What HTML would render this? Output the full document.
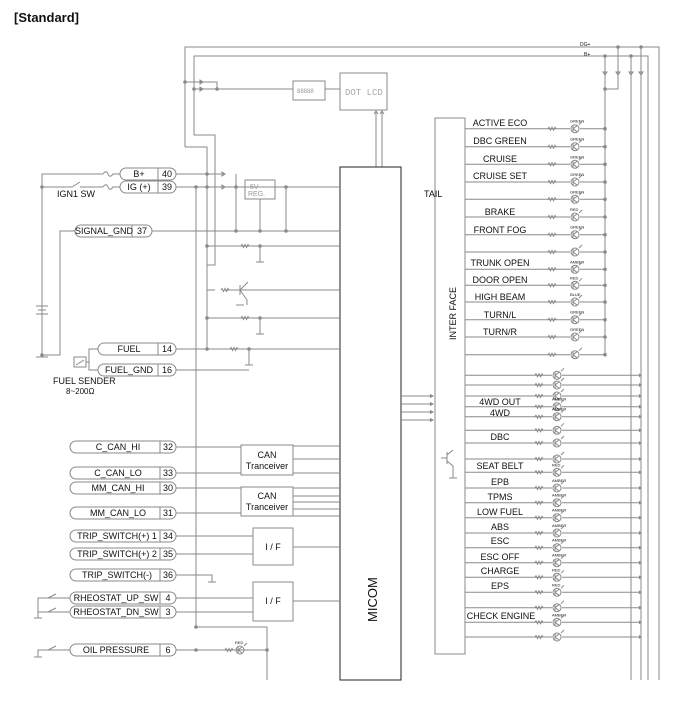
<!DOCTYPE html>
<html><head><meta charset="utf-8"><style>
html,body{margin:0;padding:0;background:#fff;width:700px;height:715px;overflow:hidden}
svg{display:block}
text{font-family:"Liberation Sans",sans-serif;fill:#111}
</style></head><body>
<svg id="s" width="700" height="715" viewBox="0 0 700 715" xmlns="http://www.w3.org/2000/svg">
<g id="g" stroke="#8a8a8a" stroke-width="1" fill="none"></g>
<text x="14" y="22" font-size="13" font-weight="bold">[Standard]</text>
<text x="580" y="46" font-size="5" fill="#777">DG+</text>
<text x="584" y="56" font-size="5" fill="#777">B+</text>
<text x="345" y="95" font-size="9" style="fill:#aaa;font-family:'Liberation Mono',monospace">DOT LCD</text>
<text x="297" y="93" font-size="6" style="fill:#999">88888</text>
<text x="250" y="189" font-size="7" style="fill:#999">5V</text>
<text x="248" y="196" font-size="7" style="fill:#999">REG.</text>
<text x="424" y="197" font-size="9">TAIL</text>
<text transform="translate(456,340) rotate(-90)" font-size="9">INTER FACE</text>
<text transform="translate(377,622) rotate(-90)" font-size="13">MICOM</text>
<text x="57" y="197" font-size="9">IGN1 SW</text>
<text x="53" y="384" font-size="9">FUEL SENDER</text>
<text x="66" y="394" font-size="8">8~200Ω</text>
<g font-size="9" text-anchor="middle">
<text x="139" y="177">B+</text><text x="167" y="177">40</text>
<text x="139" y="190">IG (+)</text><text x="167" y="190">39</text>
<text x="104" y="234">SIGNAL_GND</text><text x="142" y="234">37</text>
<text x="129" y="352">FUEL</text><text x="167" y="352">14</text>
<text x="129" y="373">FUEL_GND</text><text x="167" y="373">16</text>
<text x="118" y="450">C_CAN_HI</text><text x="168" y="450">32</text>
<text x="118" y="476">C_CAN_LO</text><text x="168" y="476">33</text>
<text x="118" y="491">MM_CAN_HI</text><text x="168" y="491">30</text>
<text x="118" y="516">MM_CAN_LO</text><text x="168" y="516">31</text>
<text x="117" y="539">TRIP_SWITCH(+) 1</text><text x="168" y="539">34</text>
<text x="117" y="557">TRIP_SWITCH(+) 2</text><text x="168" y="557">35</text>
<text x="117" y="578">TRIP_SWITCH(-)</text><text x="168" y="578">36</text>
<text x="116" y="601">RHEOSTAT_UP_SW</text><text x="168" y="601">4</text>
<text x="116" y="615">RHEOSTAT_DN_SW</text><text x="168" y="615">3</text>
<text x="116" y="653">OIL PRESSURE</text><text x="168" y="653">6</text>
<text x="267" y="458">CAN</text><text x="267" y="469">Tranceiver</text>
<text x="267" y="499">CAN</text><text x="267" y="510">Tranceiver</text>
<text x="273" y="550">I / F</text><text x="273" y="604">I / F</text>
<text x="500" y="126">ACTIVE ECO</text>
<text x="500" y="144">DBC GREEN</text>
<text x="500" y="162">CRUISE</text>
<text x="500" y="179">CRUISE SET</text>
<text x="500" y="215">BRAKE</text>
<text x="500" y="233">FRONT FOG</text>
<text x="500" y="266">TRUNK OPEN</text>
<text x="500" y="283">DOOR OPEN</text>
<text x="500" y="300">HIGH BEAM</text>
<text x="500" y="318">TURN/L</text>
<text x="500" y="335">TURN/R</text>
<text x="500" y="405">4WD OUT</text>
<text x="500" y="416">4WD</text>
<text x="500" y="440">DBC</text>
<text x="500" y="469">SEAT BELT</text>
<text x="500" y="485">EPB</text>
<text x="500" y="500">TPMS</text>
<text x="500" y="515">LOW FUEL</text>
<text x="500" y="530">ABS</text>
<text x="500" y="544">ESC</text>
<text x="500" y="560">ESC OFF</text>
<text x="500" y="574">CHARGE</text>
<text x="500" y="589">EPS</text>
<text x="501" y="619">CHECK ENGINE</text>
</g>
<g id="t" font-size="4" fill="#888"></g>
</svg>
<script>
var g=document.getElementById('g'),t=document.getElementById('t'),NS='http://www.w3.org/2000/svg';
function e(tag,a,p){var n=document.createElementNS(NS,tag);for(var k in a)n.setAttribute(k,a[k]);(p||g).appendChild(n);return n}
function L(pts){e('polyline',{points:pts})}
function R(x,y,w,h,c){e('rect',{x:x,y:y,width:w,height:h,stroke:c||'#8a8a8a'})}
function D(x,y){e('circle',{cx:x,cy:y,r:1.3,fill:'#888'})}
function res(x,y){e('path',{d:'M'+(x-4)+' '+y+'l1 -1.5l1.5 3l1.5 -3l1.5 3l1.5 -3l1 1.5'})}
function led(x,y,c){e('circle',{cx:x,cy:y,r:4});e('path',{d:'M'+(x-2)+' '+(y-3)+'v6M'+(x-2)+' '+y+'l4 -3M'+(x-2)+' '+y+'l4 3M'+(x+4)+' '+(y-4)+'l3 -3'});if(c){var s=e('text',{x:x-5,y:y-6,stroke:'none',fill:'#888'},t);s.textContent=c}}
function pill(x1,x2,y,d){e('rect',{x:x1,y:y-6,width:x2-x1,height:12,rx:6});L(d+','+(y-6)+' '+d+','+(y+6))}
L('185,147 185,47 659,47 659,680');L('194,135 194,56 648,56 648,680');
L('185,147 207,147 207,350');L('194,135 215,135 215,265 207,265');
L('605,56 605,355');L('618,47 618,89 605,89');L('631,56 631,680');L('641,47 641,680');
[605,618,631,641].forEach(function(x){e('path',{d:'M'+(x-2)+' 72h4l-2 3z'})});
D(605,56);D(618,47);D(631,56);D(641,47);D(605,89);
L('185,82 217,82 217,89');L('194,89 293,89');D(185,82);D(194,89);D(217,89);
e('path',{d:'M200 80v4l3-2zM200 87v4l3-2z',fill:'#888'});
R(293,81,32,19);L('325,89 340,89');R(340,73,47,37);
L('376,110 376,167');L('382,110 382,167');e('path',{d:'M374 114l2-3 2 3M380 114l2-3 2 3'});
R(340,167,61,513,'#222');
R(435,118,30,536);
var up=[[128.7,'GREEN'],[146.7,'GREEN'],[164.3,'GREEN'],[182,'GREEN'],[199.3,'GREEN'],[217,'RED'],[234.7,'GREEN'],[252,''],[269.3,'AMBER'],[285.3,'RED'],[302,'BLUE'],[319.7,'GREEN'],[337,'GREEN'],[354.7,'']];
up.forEach(function(r){L('465,'+r[0]+' 605,'+r[0]);res(552,r[0]);e('rect',{x:570,y:r[0]-4.5,width:10,height:9,fill:'#fff',stroke:'none'});led(575,r[0],r[1]);D(605,r[0])});
var lo=[375.3,385,396,406.7,416.7,430.3,443,459,472.3,488,502.7,517.7,533,547.7,562.7,577.3,592.3,607.7,622.3,637];
var lc=['','','','AMBER','AMBER','','','','RED','AMBER','AMBER','AMBER','AMBER','AMBER','AMBER','RED','RED','','AMBER',''];
lo.forEach(function(y,i){L('465,'+y+' 641,'+y);res(539,y);e('rect',{x:552,y:y-4.5,width:10,height:9,fill:'#fff',stroke:'none'});led(557,y,lc[i]);e('path',{d:'M639 '+(y-1.5)+'l2 1.5-2 1.5',fill:'#888'})});
[396,404,412,420].forEach(function(y){L('401,'+y+' 433,'+y);e('path',{d:'M430 '+(y-1.5)+'l3 1.5-3 1.5',fill:'#888'})});
L('447,452 447,464');L('441,458 447,458');L('447,455 453,450');L('447,461 453,466 453,478');L('449,478 457,478');
pill(120,176,174,158);pill(120,176,187,158);pill(75,152,231,132);pill(98,176,349,158);pill(98,176,370,158);
[447,473,488,513,536,554,575,598,612,650].forEach(function(y){pill(70,176,y,160)});
L('42,355 42,174 103,174');L('42,187 72,187');e('path',{d:'M72 187l8-5M80 187h23'});D(42,187);D(42,355);
e('path',{d:'M103 174c2-3 4-3 5 0s3 3 5 0h7M103 187c2-3 4-3 5 0s3 3 5 0h7'});
e('path',{d:'M36 306h12M38 310h8M36 314h12'});L('36,357 48,357');
L('75,231 60,231 60,355 42,355');
R(74,357,12,10);e('path',{d:'M76 365l8-5M86 362h3 l0-13 h9M86 362 89 362 89 370 98 370'});
L('176,174 224,174');e('path',{d:'M222 172v4l3-2z'});L('236,174 236,231');D(207,174);
L('176,187 340,187');D(196,187);D(207,187);D(236,187);D(286,187);
L('196,187 196,627 267,627 267,680');D(196,627);
R(245,180,30,19);e('path',{d:'M222 185v4l3-2z'});
L('260,199 260,231');L('286,187 286,231');
L('152,231 340,231');D(236,231);D(260,231);D(286,231);
[[246,260],[318,260],[349,249]].forEach(function(r){L('207,'+r[0]+' 340,'+r[0]);res(r[1]-15,r[0]);L(r[1]+','+r[0]+' '+r[1]+','+(r[0]+16));D(r[1],r[0]);D(207,r[0]);e('path',{d:'M'+(r[1]-4)+' '+(r[0]+16)+'h8'})});
L('207,290 215,290');L('225,290 340,290');res(225,290);L('240,285 240,295');L('240,290 248,282');L('240,290 247,300 247,305');e('path',{d:'M236 305h8'});
L('176,349 207,349');L('176,370 249,370');
R(241,445,52,30);R(241,487,52,29);R(253,528,40,37);R(253,582,40,39);
L('176,447 241,447');L('176,473 241,473');L('176,488 241,488');L('176,513 241,513');
[446,459,473,488,496,502,509,516].forEach(function(y){L('293,'+y+' 340,'+y)});
L('176,536 253,536');L('176,554 253,554');L('293,547 340,547');L('293,601 340,601');
L('176,575 212,575 212,582');e('path',{d:'M208 582h8'});
L('176,598 253,598');L('176,612 253,612');
L('70,598 38,598 38,618');L('70,612 38,612');e('path',{d:'M34 618h8M48 598l8-4M48 612l8-4'});
L('176,650 267,650');res(229,650);led(240,650,'RED');D(196,650);D(267,650);
L('70,650 38,650 38,657');e('path',{d:'M34 657h8M48 650l8-4'});
</script>
</body></html>
